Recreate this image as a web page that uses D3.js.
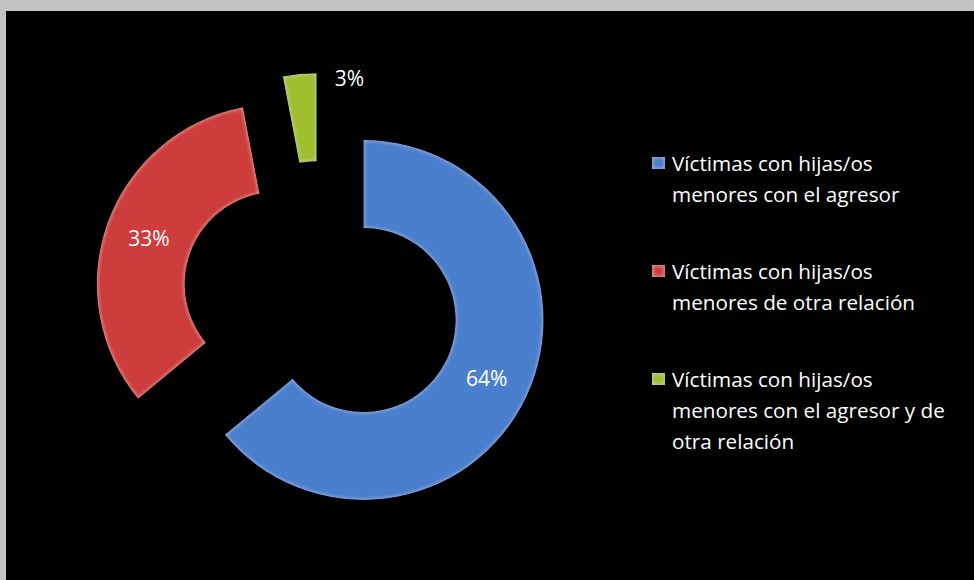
<!DOCTYPE html>
<html><head><meta charset="utf-8">
<script src="https://cdn.jsdelivr.net/npm/d3@7"></script>
<style>
html,body{margin:0;padding:0;background:#c3c3c3;}
svg{display:block;}
</style></head>
<body>
<script>
const categories = [
  "Víctimas con hijas/os menores con el agresor",
  "Víctimas con hijas/os menores de otra relación",
  "Víctimas con hijas/os menores con el agresor y de otra relación"
];
const values = [64, 33, 3];
const labels = ["64%", "33%", "3%"];
const legendLines = [
  ["Víctimas con hijas/os", "menores con el agresor"],
  ["Víctimas con hijas/os", "menores de otra relación"],
  ["Víctimas con hijas/os", "menores con el agresor y de", "otra relación"]
];
const colors = ["#4a7fcc", "#cc3e3b", "#9fbf2e"];

const W = 974, H = 580;
const svg = d3.select("body").append("svg").attr("width", W).attr("height", H);
svg.append("rect").attr("width", W).attr("height", H).attr("fill", "#c3c3c3");
svg.append("rect").attr("x", 6).attr("y", 11).attr("width", W - 6).attr("height", H - 11).attr("fill", "#000");

const defs = svg.append("defs");
const f = defs.append("filter").attr("id", "bevel").attr("x", "-10%").attr("y", "-10%").attr("width", "120%").attr("height", "120%");
f.append("feGaussianBlur").attr("in", "SourceAlpha").attr("stdDeviation", 2.2).attr("result", "blur");
f.append("feComposite").attr("in", "SourceAlpha").attr("in2", "blur").attr("operator", "arithmetic")
  .attr("k1", 0).attr("k2", 1).attr("k3", -1).attr("k4", 0).attr("result", "edge");
f.append("feFlood").attr("flood-color", "#ffffff").attr("flood-opacity", 0.35).attr("result", "white");
f.append("feComposite").attr("in", "white").attr("in2", "edge").attr("operator", "in").attr("result", "rim");
const m = f.append("feMerge");
m.append("feMergeNode").attr("in", "SourceGraphic");
m.append("feMergeNode").attr("in", "rim");

const cx = 321, cy = 300, R = 180, r = 92, explode = 47;
const pie = d3.pie().sort(null).value(d => d)(values);
const arc = d3.arc().innerRadius(r).outerRadius(R);

const g = svg.append("g").attr("transform", `translate(${cx},${cy})`);
const slices = g.selectAll("g.slice").data(pie).join("g").attr("class", "slice")
  .attr("transform", d => {
    const a = (d.startAngle + d.endAngle) / 2;
    return `translate(${explode * Math.sin(a)},${-explode * Math.cos(a)})`;
  });
slices.append("path").attr("d", arc).attr("fill", (d, i) => colors[i]).attr("filter", "url(#bevel)");

const font = "'Open Sans', sans-serif";
slices.append("text")
  .attr("transform", (d, i) => {
    if (i === 2) {
      const la = d3.arc().innerRadius(R - 2).outerRadius(R - 2);
      const c = la.centroid({startAngle: d.endAngle + 0.185, endAngle: d.endAngle + 0.185});
      return `translate(${c[0]},${c[1]})`;
    }
    const c = arc.centroid(d);
    return `translate(${c[0]},${c[1]})`;
  })
  .attr("text-anchor", "middle").attr("dominant-baseline", "central")
  .attr("fill", "#fff").style("font-family", font).style("font-size", "21px")
  .text((d, i) => labels[i]);

const lg = svg.append("g").attr("transform", "translate(652,0)");
const legendY = [163, 271, 379];
const lineH = 31;
categories.forEach((c, i) => {
  const grp = lg.append("g").attr("transform", `translate(0,${legendY[i]})`);
  grp.append("rect").attr("x", 0).attr("y", -6).attr("width", 13).attr("height", 12)
    .attr("fill", colors[i]).attr("filter", "url(#bevel)");
  const t = grp.append("text").attr("fill", "#fff").style("font-family", font).style("font-size", "20.7px");
  legendLines[i].forEach((ln, j) => {
    t.append("tspan").attr("x", 20).attr("y", j * lineH).attr("dominant-baseline", "central").text(ln);
  });
});
</script>
</body></html>
